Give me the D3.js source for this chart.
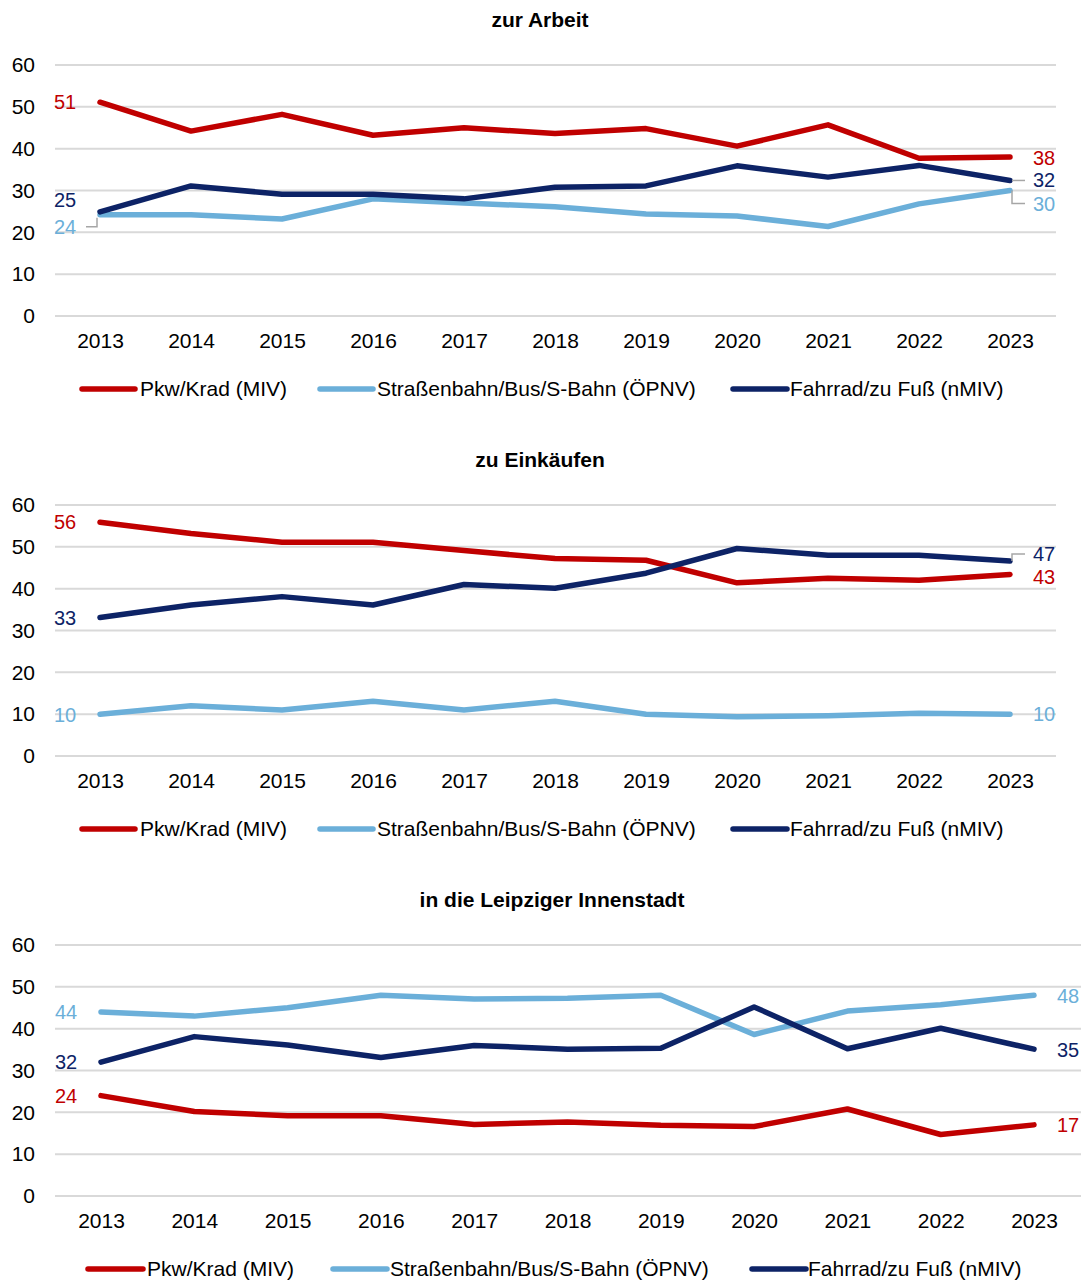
<!DOCTYPE html>
<html><head><meta charset="utf-8">
<script src="https://cdn.jsdelivr.net/npm/d3@7"></script>
<style>
html,body{margin:0;padding:0;background:#fff;}
svg{display:block;font-family:"Liberation Sans",Arial,sans-serif;}
</style></head>
<body>
<svg id="chart" width="1085" height="1281"></svg>
<script>
// ---------- data ----------
const years = [2013,2014,2015,2016,2017,2018,2019,2020,2021,2022,2023];
const yTicks = [0,10,20,30,40,50,60];
const seriesNames = ["Pkw/Krad (MIV)", "Straßenbahn/Bus/S-Bahn (ÖPNV)", "Fahrrad/zu Fuß (nMIV)"];
const panelTitles = ["zur Arbeit", "zu Einkäufen", "in die Leipziger Innenstadt"];

const arbeitMIV   = [51.1,44.2,48.2,43.2,45.0,43.6,44.8,40.6,45.7,37.7,38.0];
const arbeitOEPNV = [24.2,24.2,23.2,28.0,27.0,26.1,24.4,23.9,21.4,26.8,30.0];
const arbeitNMIV  = [24.9,31.1,29.1,29.1,28.0,30.8,31.1,35.9,33.2,36.0,32.4];

const einkaufMIV   = [55.9,53.2,51.1,51.1,49.1,47.2,46.8,41.4,42.5,42.0,43.4];
const einkaufOEPNV = [10.0,12.0,11.0,13.1,11.0,13.1,10.0,9.4,9.6,10.2,10.0];
const einkaufNMIV  = [33.1,36.1,38.1,36.1,41.0,40.1,43.7,49.6,48.0,48.0,46.6];

const innenMIV   = [24.0,20.2,19.2,19.2,17.1,17.7,16.9,16.6,20.8,14.7,17.0];
const innenOEPNV = [44.0,43.0,45.0,48.0,47.1,47.3,48.0,38.6,44.2,45.7,48.0];
const innenNMIV  = [32.0,38.1,36.1,33.1,36.0,35.1,35.3,45.2,35.2,40.1,35.1];

// ---------- styles / layout ----------
const colors = ["#C00000", "#6BAFD9", "#0D2366"];
const panels = [
  {title: panelTitles[0], values: [arbeitMIV, arbeitOEPNV, arbeitNMIV],
   top: 65, bottom: 316, x0: 100, x1: 1010, gridL: 55, gridR: 1056, titleX: 540, titleY: 20,
   yearY: 341, legendY: 389, legend: [[82,135,140],[320,373,377],[733,787,790]],
   labels: [ {s:0,side:"L",dy:0}, {s:2,side:"L",dy:-12}, {s:1,side:"L",dy:12,leader:true},
             {s:0,side:"R",dy:1}, {s:2,side:"R",dy:0,leader:true}, {s:1,side:"R",dy:13,leader:true} ]},
  {title: panelTitles[1], values: [einkaufMIV, einkaufOEPNV, einkaufNMIV],
   top: 505, bottom: 756, x0: 100, x1: 1010, gridL: 55, gridR: 1056, titleX: 540, titleY: 460,
   yearY: 781, legendY: 829, legend: [[82,135,140],[320,373,377],[733,787,790]],
   labels: [ {s:0,side:"L",dy:0}, {s:2,side:"L",dy:0}, {s:1,side:"L",dy:1},
             {s:0,side:"R",dy:3}, {s:2,side:"R",dy:-7,leader:true}, {s:1,side:"R",dy:0} ]},
  {title: panelTitles[2], values: [innenMIV, innenOEPNV, innenNMIV],
   top: 945, bottom: 1196, x0: 101, x1: 1034, gridL: 55, gridR: 1081, titleX: 552, titleY: 900,
   yearY: 1221, legendY: 1269, legend: [[88,143,147],[333,387,390],[752,806,808]],
   labels: [ {s:0,side:"L",dy:0}, {s:2,side:"L",dy:0}, {s:1,side:"L",dy:0},
             {s:0,side:"R",dy:0}, {s:2,side:"R",dy:1}, {s:1,side:"R",dy:1} ]}
];

const svg = d3.select("#chart");
const FS = 21;
const LFS = 20;

panels.forEach(p => {
  const g = svg.append("g");
  const x = d3.scalePoint().domain(years).range([p.x0, p.x1]);
  const y = d3.scaleLinear().domain([0, 60]).range([p.bottom, p.top]);

  // title
  g.append("text").attr("x", p.titleX).attr("y", p.titleY).attr("dy", "0.35em")
    .attr("text-anchor", "middle").attr("font-weight", "bold").attr("font-size", FS)
    .attr("fill", "#000").text(p.title);

  // grid
  g.selectAll("line.grid").data(yTicks).join("line").attr("class", "grid")
    .attr("x1", p.gridL).attr("x2", p.gridR)
    .attr("y1", d => y(d)).attr("y2", d => y(d))
    .attr("stroke", "#D9D9D9").attr("stroke-width", 2);

  // y axis labels
  const yAxis = d3.axisLeft(y).tickValues(yTicks).tickSize(0).tickPadding(0);
  const ya = g.append("g").attr("transform", "translate(35,0)").call(yAxis);
  ya.select(".domain").remove();
  ya.selectAll("text").attr("font-size", FS).attr("fill", "#000")
    .attr("font-family", "Liberation Sans, Arial, sans-serif");

  // x axis labels
  const xAxis = d3.axisBottom(x).tickSize(0).tickPadding(0).tickFormat(d3.format("d"));
  const xa = g.append("g").attr("transform", `translate(0,${p.yearY})`).call(xAxis);
  xa.select(".domain").remove();
  xa.selectAll("text").attr("font-size", FS).attr("fill", "#000").attr("dy", "0.35em")
    .attr("font-family", "Liberation Sans, Arial, sans-serif");

  // lines
  const line = d3.line().x((d, i) => x(years[i])).y(d => y(d));
  p.values.forEach((vals, si) => {
    g.append("path").datum(vals).attr("d", line)
      .attr("fill", "none").attr("stroke", colors[si]).attr("stroke-width", 5.5)
      .attr("stroke-linejoin", "round").attr("stroke-linecap", "round");
  });

  // data labels
  p.labels.forEach(l => {
    const vals = p.values[l.s];
    const idx = l.side === "L" ? 0 : years.length - 1;
    const px = x(years[idx]), py = y(vals[idx]);
    const ly = py + l.dy;
    const tx = l.side === "L" ? px - 46 : px + 23;
    if (l.leader) {
      let pts;
      if (l.side === "L") pts = [[px - 3, py + 3], [px - 3, ly], [px - 14, ly]];
      else pts = [[px + 2, py], [px + 2, ly], [px + 15, ly]];
      g.append("path").attr("d", d3.line()(pts)).attr("fill", "none")
        .attr("stroke", "#A6A6A6").attr("stroke-width", 1.5);
    }
    g.append("text").attr("x", tx).attr("y", ly).attr("dy", "0.35em")
      .attr("font-size", LFS).attr("fill", colors[l.s]).text(Math.round(vals[idx]));
  });

  // legend
  p.legend.forEach((lg, si) => {
    g.append("line").attr("x1", lg[0]).attr("x2", lg[1])
      .attr("y1", p.legendY).attr("y2", p.legendY)
      .attr("stroke", colors[si]).attr("stroke-width", 5.5).attr("stroke-linecap", "round");
    g.append("text").attr("x", lg[2]).attr("y", p.legendY).attr("dy", "0.35em")
      .attr("font-size", FS).attr("fill", "#000").text(seriesNames[si]);
  });
});
</script>
</body></html>
